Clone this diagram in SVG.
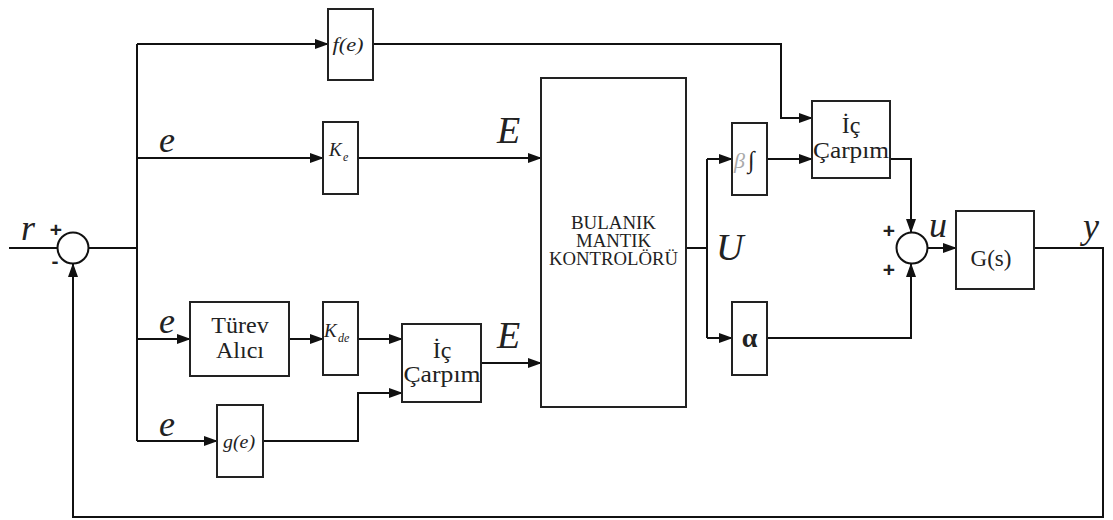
<svg xmlns="http://www.w3.org/2000/svg" width="1113" height="520" viewBox="0 0 1113 520">
<style>
.box{fill:#fff;stroke:#222;stroke-width:2}
.ln{fill:none;stroke:#111;stroke-width:2}
.ar{fill:none;stroke:#111;stroke-width:2;marker-end:url(#ah)}
.t{font-family:"Liberation Serif","Times New Roman","DejaVu Serif",serif;fill:#222}
.it{font-family:"Liberation Serif","Times New Roman","DejaVu Serif",serif;font-style:italic;fill:#222}
.sg{font-family:"Liberation Sans",Arial,sans-serif;font-size:21px;font-weight:bold;fill:#222}
</style>
<defs>
<marker id="ah" markerUnits="userSpaceOnUse" markerWidth="14" markerHeight="10" refX="13" refY="5" orient="auto">
<path d="M0,0 L14,5 L0,10 Z" fill="#111"/>
</marker>
</defs>
<rect width="1113" height="520" fill="#fff"/>
<g id="connectors">
<line class="ln" x1="9" y1="248" x2="58" y2="248"/>
<line class="ln" x1="89" y1="248" x2="137" y2="248"/>
<line class="ln" x1="137" y1="44" x2="137" y2="441"/>
<polyline class="ar" points="137,44 328,44"/>
<polyline class="ar" points="137,158 323,158"/>
<polyline class="ar" points="137,339 190,339"/>
<polyline class="ar" points="137,441 217,441"/>
<polyline class="ar" points="289,339 323,339"/>
<polyline class="ar" points="358,339 402,339"/>
<polyline class="ar" points="263,441 358,441 358,393 402,393"/>
<polyline class="ar" points="481,363 541,363"/>
<polyline class="ar" points="358,158 541,158"/>
<polyline class="ar" points="373,44 781,44 781,118 812,118"/>
<line class="ln" x1="686" y1="248" x2="707" y2="248"/>
<line class="ln" x1="707" y1="159" x2="707" y2="338"/>
<polyline class="ar" points="707,159 732,159"/>
<polyline class="ar" points="707,338 732,338"/>
<polyline class="ar" points="767,159 812,159"/>
<polyline class="ar" points="890,159 911,159 911,232"/>
<polyline class="ar" points="767,338 911,338 911,264"/>
<polyline class="ar" points="928,248 956,248"/>
<polyline class="ar" points="1034,248 1103,248 1103,517 73,517 73,264"/>
</g>
<g id="labels">
<text class="it" x="21" y="240" font-size="36">r</text>
<text class="sg" x="56" y="237" text-anchor="middle">+</text>
<text class="sg" x="55" y="268" text-anchor="middle">-</text>
<text class="it" x="159" y="152" font-size="36">e</text>
<text class="it" x="159" y="333" font-size="36">e</text>
<text class="it" x="159" y="436" font-size="36">e</text>
<text class="it" x="497" y="143" font-size="38">E</text>
<text class="it" x="497" y="348" font-size="38">E</text>
<text class="it" x="716" y="260" font-size="38">U</text>
<text class="it" x="929" y="237" font-size="36">u</text>
<text class="it" x="1083" y="238" font-size="36">y</text>
<text class="sg" x="889" y="238" text-anchor="middle">+</text>
<text class="sg" x="889" y="277" text-anchor="middle">+</text>
</g>
<g id="sum1"><circle cx="73" cy="248" r="15.5" fill="#fff" stroke="#111" stroke-width="2"/></g>
<g id="sum2"><circle cx="912" cy="248" r="15.5" fill="#fff" stroke="#111" stroke-width="2"/></g>
<g id="fe">
<rect class="box" x="328" y="9" width="45" height="71"/>
<text class="it" x="348" y="51" font-size="19" text-anchor="middle" textLength="31" lengthAdjust="spacingAndGlyphs">f(e)</text>
</g>
<g id="ke">
<rect class="box" x="323" y="122" width="35" height="72"/>
<text class="it" x="329" y="156" font-size="19">K</text>
<text class="it" x="343" y="161" font-size="12">e</text>
</g>
<g id="turev">
<rect class="box" x="190" y="302" width="99" height="74"/>
<text class="t" x="240" y="333" font-size="24" text-anchor="middle">Türev</text>
<text class="t" x="240" y="358" font-size="24" text-anchor="middle">Alıcı</text>
</g>
<g id="kde">
<rect class="box" x="323" y="302" width="35" height="73"/>
<text class="it" x="324" y="337" font-size="19">K</text>
<text class="it" x="338" y="342" font-size="12">de</text>
</g>
<g id="ge">
<rect class="box" x="217" y="405" width="46" height="72"/>
<text class="it" x="239" y="448" font-size="19" text-anchor="middle" textLength="32" lengthAdjust="spacingAndGlyphs">g(e)</text>
</g>
<g id="iccarpim2">
<rect class="box" x="402" y="324" width="79" height="78"/>
<text class="t" x="442" y="358" font-size="24" text-anchor="middle">İç</text>
<text class="t" x="442" y="382" font-size="24" text-anchor="middle" textLength="77" lengthAdjust="spacingAndGlyphs">Çarpım</text>
</g>
<g id="bmk">
<rect class="box" x="541" y="78" width="145" height="329"/>
<text class="t" x="613.5" y="229" font-size="18" text-anchor="middle" textLength="85" lengthAdjust="spacingAndGlyphs">BULANIK</text>
<text class="t" x="613.5" y="247" font-size="18" text-anchor="middle" textLength="75" lengthAdjust="spacingAndGlyphs">MANTIK</text>
<text class="t" x="613.5" y="265" font-size="18" text-anchor="middle" textLength="129" lengthAdjust="spacingAndGlyphs">KONTROLÖRÜ</text>
</g>
<g id="beta">
<rect class="box" x="732" y="123" width="35" height="72"/>
<text class="it" x="734" y="168" font-size="22" style="fill:#aaa">β</text>
<text class="it" x="748" y="168" font-size="24">∫</text>
</g>
<g id="alpha">
<rect class="box" x="732" y="302" width="35" height="73"/>
<text class="t" x="749.5" y="347" font-size="28" font-weight="bold" text-anchor="middle">α</text>
</g>
<g id="iccarpim1">
<rect class="box" x="812" y="101" width="78" height="77"/>
<text class="t" x="851" y="133" font-size="24" text-anchor="middle">İç</text>
<text class="t" x="851" y="158" font-size="24" text-anchor="middle" textLength="76" lengthAdjust="spacingAndGlyphs">Çarpım</text>
</g>
<g id="gs">
<rect class="box" x="956" y="211" width="78" height="78"/>
<text class="t" x="991" y="266" font-size="23" text-anchor="middle">G(s)</text>
</g>
</svg>
